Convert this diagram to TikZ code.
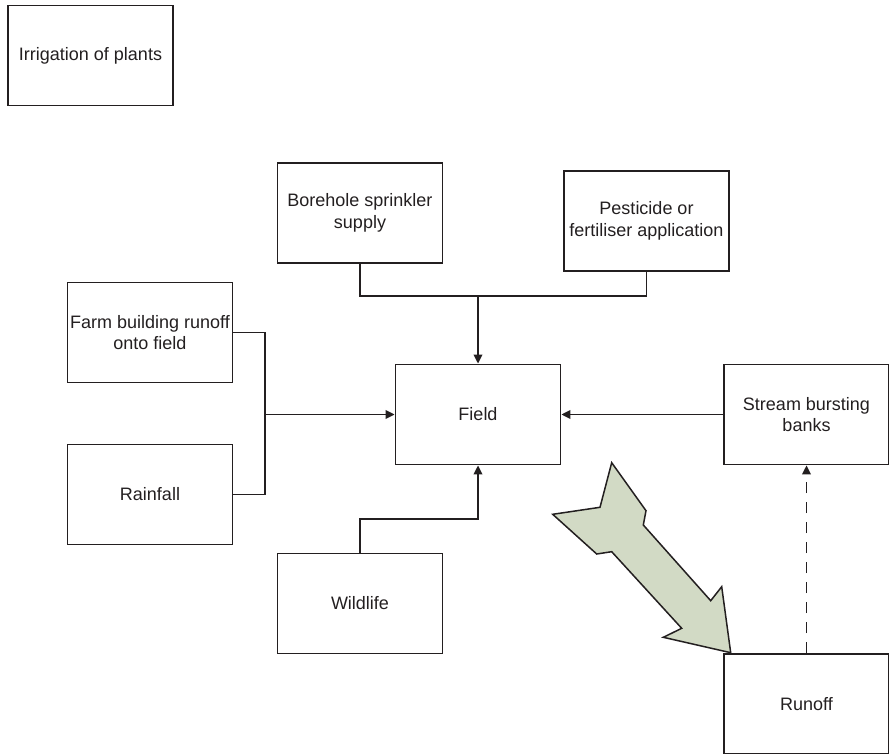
\documentclass[tikz,border=0pt]{standalone}
\usepackage{fontspec}
\setmainfont{Liberation Sans}
\usetikzlibrary{arrows.meta}
\definecolor{ink}{RGB}{35,31,32}
\definecolor{arrowgreen}{RGB}{210,218,197}
\begin{document}
\begin{tikzpicture}[x=1pt,y=-1pt,
  box/.style={draw=ink, line width=1.8pt, rectangle, minimum width=165pt,
    minimum height=100pt, inner sep=0pt, align=center, text=ink,
    font=\fontsize{18}{21.5}\selectfont},
  link/.style={draw=ink, line width=1.8pt},
  arr/.style={link, -{Triangle[length=9pt,width=8.5pt]}}]
\useasboundingbox (0,0) rectangle (889,754);

% boxes
\node[box] (irr)    at (90.5,55.5)  {Irrigation of plants};
\node[box] (bore)   at (360,213)    {Borehole sprinkler\\supply};
\node[box] (pest)   at (646.5,221)  {Pesticide or\\fertiliser application};
\node[box] (farm)   at (150,332.5)  {Farm building runoff\\onto field};
\node[box] (field)  at (478,414.5)  {Field};
\node[box] (stream) at (806.5,414.5){Stream bursting\\banks};
\node[box] (rain)   at (150,494.5)  {Rainfall};
\node[box] (wild)   at (360,603.5)  {Wildlife};
\node[box] (runoff) at (806.5,704)  {Runoff};

% junction points
\coordinate (topbus)  at (478,296);
\coordinate (leftbus) at (265,414.5);
\coordinate (lowbend) at (360,519);

% connectors
\draw[link] (bore.south) |- (topbus) -| (pest.south);
\draw[arr]  (topbus) -- (field.north);
\draw[link] (farm.east) -| (leftbus) |- (rain.east);
\draw[arr]  (leftbus) -- (field.west);
\draw[arr]  (stream.west) -- (field.east);
\draw[arr]  (wild.north) -- (lowbend) -| (field.south);
\draw[arr, dash pattern=on 11pt off 9pt] (runoff.north) -- (stream.south);

% broad flow arrow towards the runoff
\draw[draw=ink, fill=arrowgreen, line width=1.5pt, line join=miter]
  (611.7,462.7) -- (646,510.7) -- (643.3,525) -- (710.7,600.7)
  -- (721.7,586.7) -- (730.7,652.7) -- (663.3,637.3) -- (681.7,628.3)
  -- (611.7,551.7) -- (596.7,554) -- (552.7,514.3) -- (600,507.3) -- cycle;
\end{tikzpicture}
\end{document}
